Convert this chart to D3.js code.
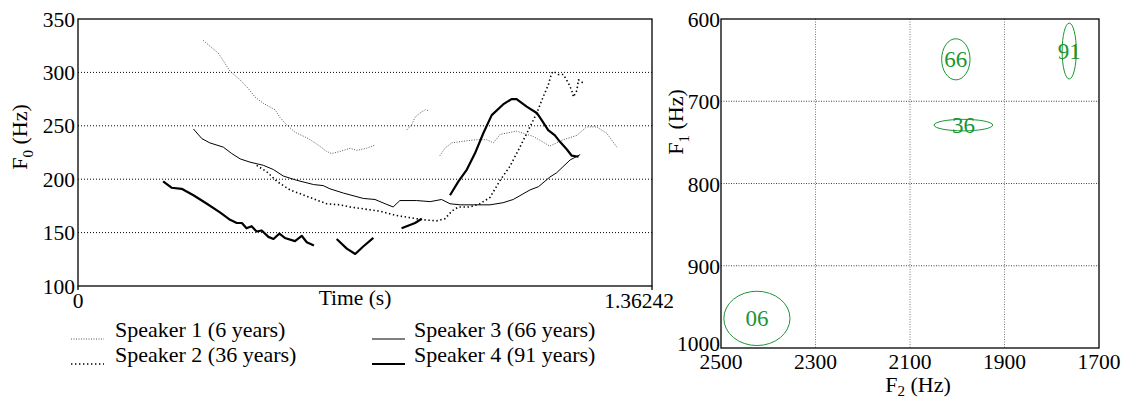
<!DOCTYPE html>
<html>
<head>
<meta charset="utf-8">
<script src="https://cdn.jsdelivr.net/npm/d3@7"></script>
<style>
  body { margin: 0; background: #fff; }
  svg, svg text { font-family: "Liberation Serif", "DejaVu Serif", "Times New Roman", serif; }
</style>
</head>
<body>
<svg width="1124" height="399" font-family="Liberation Serif, DejaVu Serif, serif"></svg>
<script>
// F0 contours, [time (s), F0 (Hz)], one array per voiced segment
var speaker1 = [
  [[0.297,330],[0.333,318],[0.361,301],[0.385,293],[0.404,285],[0.420,277],[0.440,271],[0.468,265],
   [0.479,258],[0.495,251],[0.515,244],[0.547,238],[0.570,232],[0.590,226],[0.602,224],[0.622,226],
   [0.646,229],[0.662,227],[0.685,229],[0.705,232]],
  [[0.780,246],[0.792,251],[0.800,258],[0.812,262],[0.824,265],[0.834,264]],
  [[0.859,222],[0.871,229],[0.887,234],[0.923,236],[0.946,237],[0.970,237],[0.986,234],[1.002,242],
   [1.041,245],[1.081,240],[1.120,231],[1.152,237],[1.184,241],[1.207,249],[1.231,249],[1.255,243],
   [1.279,230]]
];
var speaker2 = [
  [[0.424,213],[0.448,207],[0.472,198],[0.503,190],[0.543,184],[0.590,177],[0.622,176],[0.646,174],
   [0.717,170],[0.756,166],[0.788,164],[0.820,162],[0.851,161],[0.871,163],[0.887,170],[0.903,174],
   [0.930,174],[0.954,177],[0.978,183],[1.002,199],[1.025,212],[1.049,230],[1.069,246],[1.089,262],
   [1.104,277],[1.116,288],[1.124,299],[1.128,301],[1.140,298],[1.152,298],[1.164,290],[1.172,283],
   [1.176,277],[1.184,283],[1.188,293],[1.203,289]]
];
var speaker3 = [
  [[0.274,247],[0.294,238],[0.313,234],[0.345,230],[0.365,224],[0.385,219],[0.408,216],[0.440,213],
   [0.464,209],[0.487,203],[0.519,199],[0.559,195],[0.582,194],[0.598,191],[0.630,187],[0.677,182],
   [0.705,181],[0.729,177],[0.748,174],[0.764,180],[0.804,180],[0.836,179],[0.863,181],[0.883,177],
   [0.907,176],[0.938,176],[0.978,176],[1.009,178],[1.033,181],[1.073,190],[1.093,193],[1.120,202],
   [1.136,206],[1.168,218],[1.192,223]]
];
var speaker4 = [
  [[0.202,198],[0.222,192],[0.246,191],[0.274,185],[0.306,177],[0.337,169],[0.361,162],[0.377,159],
   [0.389,159],[0.400,154],[0.412,156],[0.424,151],[0.436,152],[0.452,146],[0.464,144],[0.478,149],
   [0.491,145],[0.515,142],[0.531,147],[0.543,141],[0.560,138]],
  [[0.614,144],[0.638,135],[0.658,130],[0.677,137],[0.701,145]],
  [[0.768,154],[0.800,159],[0.816,163]],
  [[0.883,185],[0.903,198],[0.923,209],[0.942,224],[0.962,243],[0.982,260],[1.009,270],[1.029,275],
   [1.041,275],[1.065,268],[1.089,262],[1.101,255],[1.116,246],[1.132,241],[1.144,235],[1.160,228],
   [1.172,222],[1.188,221]]
];
var speakerNames = ["Speaker 1 (6 years)", "Speaker 2 (36 years)", "Speaker 3 (66 years)", "Speaker 4 (91 years)"];
var f0Ticks = [100, 150, 200, 250, 300, 350];
var timeTicks = [0, 1.36242];

// vowel formant ellipses
var vowelLabels = ["06", "36", "66", "91"];
var f2Means = [2424, 1987, 2003, 1763];
var f1Means = [964, 729, 649, 639];
var f2Spread = [70, 62, 30, 15];
var f1Spread = [33, 7, 25, 34];
var f2Ticks = [2500, 2300, 2100, 1900, 1700];
var f1Ticks = [600, 700, 800, 900, 1000];

var green = "#1a9632";
var svg = d3.select("svg");

// ---------- left: F0 contours ----------
var x = d3.scaleLinear().domain([0, 1.36242]).range([78, 652]);
var y = d3.scaleLinear().domain([100, 350]).range([286, 19]);

var left = svg.append("g");
left.selectAll(".grid").data(f0Ticks.slice(1, -1)).enter().append("line")
  .attr("x1", x(0)).attr("x2", x(1.36242))
  .attr("y1", function(d){ return y(d); }).attr("y2", function(d){ return y(d); })
  .attr("stroke", "#000").attr("stroke-width", 1).attr("stroke-dasharray", "1,2");

left.append("rect")
  .attr("x", x(0)).attr("y", y(350))
  .attr("width", x(1.36242) - x(0)).attr("height", y(100) - y(350))
  .attr("fill", "none").attr("stroke", "#000").attr("stroke-width", 1.3);

left.selectAll(".xt").data(timeTicks).enter().append("line")
  .attr("x1", function(d){ return x(d); }).attr("x2", function(d){ return x(d); })
  .attr("y1", y(100)).attr("y2", y(100) + 4)
  .attr("stroke", "#000").attr("stroke-width", 1.3);

left.selectAll(".yl").data(f0Ticks).enter().append("text")
  .attr("x", 75).attr("y", function(d){ return y(d); }).attr("dy", "0.35em")
  .attr("text-anchor", "end").attr("font-size", 21.5).text(function(d){ return d; });

left.append("text").attr("x", x(0)).attr("y", 308).attr("text-anchor", "middle")
  .attr("font-size", 21.5).text("0");
left.append("text").attr("x", 674).attr("y", 308).attr("text-anchor", "end")
  .attr("font-size", 21.5).text("1.36242");
left.append("text").attr("x", 355).attr("y", 305).attr("text-anchor", "middle")
  .attr("font-size", 21.5).text("Time (s)");

var yt = left.append("text").attr("transform", "translate(27,137) rotate(-90)")
  .attr("text-anchor", "middle").attr("font-size", 22);
yt.append("tspan").text("F");
yt.append("tspan").attr("font-size", 15).attr("dy", 6).text("0");
yt.append("tspan").attr("dy", -6).text(" (Hz)");

var line = d3.line().x(function(d){ return x(d[0]); }).y(function(d){ return y(d[1]); });
var styles = [
  {stroke: "#555", width: 1, dash: "1,1.5"},
  {stroke: "#000", width: 1.6, dash: "1.4,2.6"},
  {stroke: "#000", width: 1, dash: null},
  {stroke: "#000", width: 2.2, dash: null}
];
[speaker1, speaker2, speaker3, speaker4].forEach(function(segs, i){
  segs.forEach(function(seg){
    left.append("path").attr("d", line(seg)).attr("fill", "none")
      .attr("stroke", styles[i].stroke).attr("stroke-width", styles[i].width)
      .attr("stroke-dasharray", styles[i].dash).attr("stroke-linejoin", "round");
  });
});

// legend
speakerNames.forEach(function(name, i){
  var col = Math.floor(i / 2), row = i % 2;
  var lx = col === 0 ? 71 : 372, tx = col === 0 ? 115 : 414;
  var ly = 339 + row * 25;
  left.append("line").attr("x1", lx).attr("x2", lx + 33).attr("y1", ly).attr("y2", ly)
    .attr("stroke", styles[i].stroke).attr("stroke-width", styles[i].width)
    .attr("stroke-dasharray", styles[i].dash);
  left.append("text").attr("x", tx).attr("y", ly - 2).attr("font-size", 22).text(name);
});

// ---------- right: F1/F2 plane ----------
var f2 = d3.scaleLinear().domain([2500, 1700]).range([721, 1099]);
var f1 = d3.scaleLinear().domain([600, 1000]).range([19, 348]);

var right = svg.append("g");
right.selectAll(".vg").data(f2Ticks.slice(1, -1)).enter().append("line")
  .attr("x1", function(d){ return f2(d); }).attr("x2", function(d){ return f2(d); })
  .attr("y1", f1(600)).attr("y2", f1(1000))
  .attr("stroke", "#777").attr("stroke-width", 1).attr("stroke-dasharray", "1,1.5");
right.selectAll(".hg").data(f1Ticks.slice(1, -1)).enter().append("line")
  .attr("x1", f2(2500)).attr("x2", f2(1700))
  .attr("y1", function(d){ return f1(d); }).attr("y2", function(d){ return f1(d); })
  .attr("stroke", "#444").attr("stroke-width", 1).attr("stroke-dasharray", "1,1.5");

right.append("rect")
  .attr("x", f2(2500)).attr("y", f1(600))
  .attr("width", f2(1700) - f2(2500)).attr("height", f1(1000) - f1(600))
  .attr("fill", "none").attr("stroke", "#000").attr("stroke-width", 1.3);

right.selectAll(".xl").data(f2Ticks).enter().append("text")
  .attr("x", function(d){ return f2(d); }).attr("y", 369)
  .attr("text-anchor", "middle").attr("font-size", 21.5).text(function(d){ return d; });
right.selectAll(".yl").data(f1Ticks).enter().append("text")
  .attr("x", 720).attr("y", function(d){ return f1(d) + (d === 1000 ? 3 : 8); })
  .attr("text-anchor", "end").attr("font-size", 21.5).text(function(d){ return d; });

var xt2 = right.append("text").attr("x", 918).attr("y", 392).attr("text-anchor", "middle").attr("font-size", 22);
xt2.append("tspan").text("F");
xt2.append("tspan").attr("font-size", 15).attr("dy", 4).text("2");
xt2.append("tspan").attr("dy", -4).text(" (Hz)");

var yt2 = right.append("text").attr("transform", "translate(683,122) rotate(-90)")
  .attr("text-anchor", "middle").attr("font-size", 22);
yt2.append("tspan").text("F");
yt2.append("tspan").attr("font-size", 15).attr("dy", 6).text("1");
yt2.append("tspan").attr("dy", -6).text(" (Hz)");

vowelLabels.forEach(function(lab, i){
  var cx = f2(f2Means[i]), cy = f1(f1Means[i]);
  right.append("ellipse").attr("cx", cx).attr("cy", cy)
    .attr("rx", Math.abs(f2(f2Means[i] + f2Spread[i]) - cx))
    .attr("ry", Math.abs(f1(f1Means[i] + f1Spread[i]) - cy))
    .attr("fill", "none").attr("stroke", green).attr("stroke-width", 1);
  right.append("text").attr("x", cx).attr("y", cy).attr("dy", "0.35em")
    .attr("text-anchor", "middle").attr("font-size", 23).attr("fill", green).text(lab);
});
</script>
</body>
</html>
